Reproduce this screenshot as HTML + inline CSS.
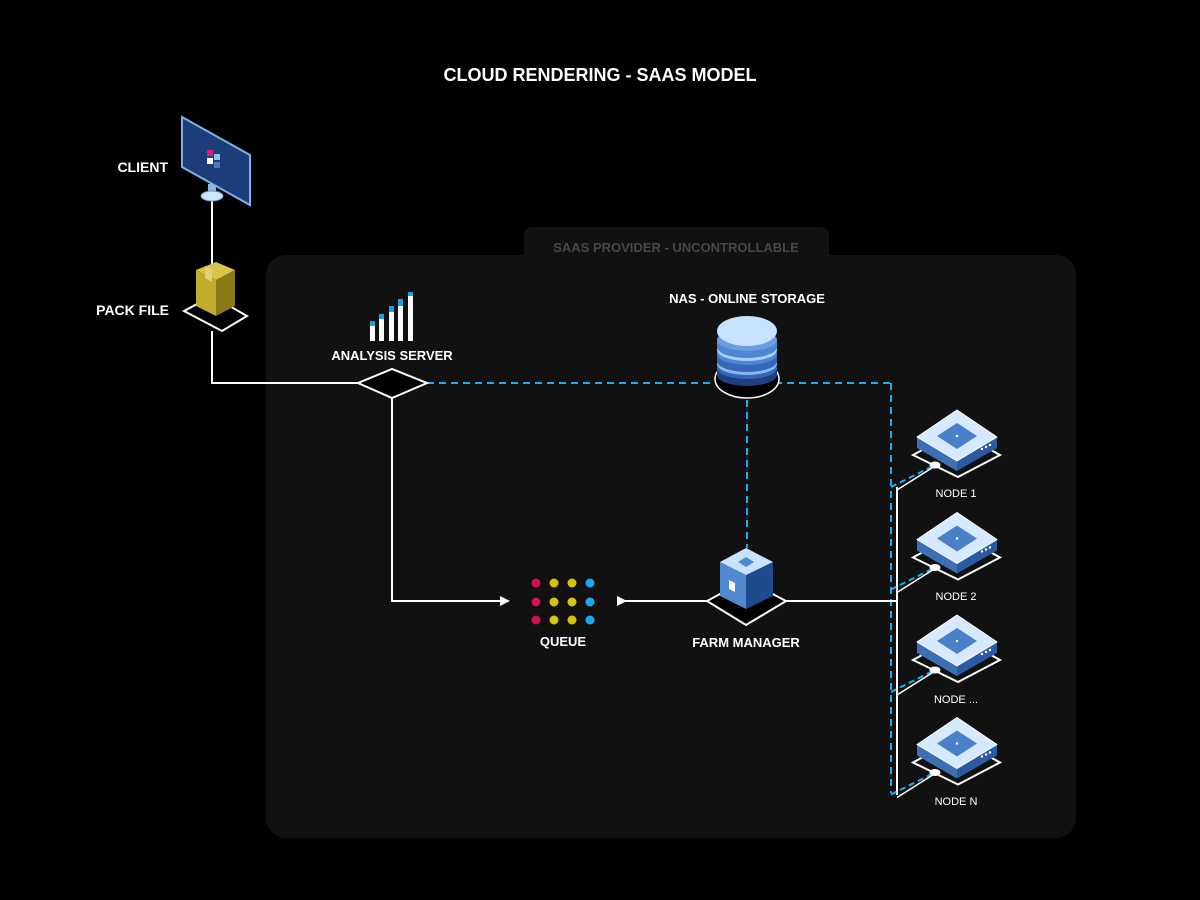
<!DOCTYPE html>
<html><head><meta charset="utf-8"><style>
html,body{margin:0;padding:0;background:#000;}
svg{display:block;}
text{font-family:"Liberation Sans",sans-serif;font-weight:bold;}
</style></head><body>
<svg width="1200" height="900" viewBox="0 0 1200 900" xmlns="http://www.w3.org/2000/svg">
<rect width="1200" height="900" fill="#000"/>
<text x="600" y="81" fill="#fff" font-size="18" text-anchor="middle">CLOUD RENDERING - SAAS MODEL</text>
<rect x="524" y="227" width="305" height="50" rx="8" fill="#111"/>
<rect x="266" y="255" width="810" height="583" rx="20" fill="#111"/>
<text x="676" y="252" fill="#474747" font-size="13" text-anchor="middle">SAAS PROVIDER - UNCONTROLLABLE</text>

<line x1="212" y1="200" x2="212" y2="266" stroke="#fff" stroke-width="2"/>
<rect x="208" y="184" width="8" height="12" fill="#8fb4dd"/>
<ellipse cx="212" cy="196" rx="11" ry="5" fill="#cfe6ff" stroke="#6b93c8"/>
<polygon points="182,117 250,155 250,205 182,167" fill="#1d3c7a" stroke="#7fb0e6" stroke-width="2"/>
<rect x="207" y="150" width="6" height="6" fill="#e0187a"/>
<rect x="214" y="154" width="6" height="6" fill="#8fc3ef"/>
<rect x="207" y="158" width="6" height="6" fill="#fff"/>
<rect x="214" y="162" width="6" height="6" fill="#4a78b8"/>
<text x="168" y="172" fill="#fff" font-size="14" text-anchor="end">CLIENT</text>

<polygon points="184,311 212,296 247,316 222,331" fill="#000" stroke="#fff" stroke-width="2"/>
<polygon points="196,270 216,280 216,316 196,306" fill="#c1ab2d"/>
<polygon points="216,280 235,270 235,306 216,316" fill="#8a7a16"/>
<polygon points="196,270 216,262 235,270 216,280" fill="#d8c44a"/>
<polygon points="205,266 212,270 212,282 205,278" fill="#e2d27a"/>
<text x="169" y="315" fill="#fff" font-size="14" text-anchor="end">PACK FILE</text>

<polyline points="212,331 212,383 358,383" fill="none" stroke="#fff" stroke-width="2"/>
<line x1="427" y1="383" x2="891" y2="383" stroke="#1ab0f0" stroke-width="2" stroke-dasharray="7,5"/>
<line x1="891" y1="383" x2="891" y2="793" stroke="#1ab0f0" stroke-width="2" stroke-dasharray="7,5"/>
<line x1="747" y1="400" x2="747" y2="548" stroke="#1ab0f0" stroke-width="2" stroke-dasharray="7,5"/>
<polyline points="392,398 392,601 500,601" fill="none" stroke="#fff" stroke-width="2"/>
<polygon points="500,596 510,601 500,606" fill="#fff"/>
<line x1="620" y1="601" x2="707" y2="601" stroke="#fff" stroke-width="2"/>
<polygon points="617,596 627,601 617,606" fill="#fff"/>
<line x1="786" y1="601" x2="897" y2="601" stroke="#fff" stroke-width="2"/>
<line x1="897" y1="487" x2="897" y2="795" stroke="#fff" stroke-width="2"/>

<polygon points="358,383 392,369 427,383 392,398" fill="#000" stroke="#fff" stroke-width="2"/>
<g fill="#fff"><rect x="370" y="323" width="5" height="18"/><rect x="379" y="316" width="5" height="25"/><rect x="389" y="308" width="5" height="33"/><rect x="398" y="300" width="5" height="41"/><rect x="408" y="292" width="5" height="49"/></g>
<g fill="#1aa0e0"><rect x="370" y="321" width="5" height="5"/><rect x="379" y="314" width="5" height="5"/><rect x="389" y="306" width="5" height="6"/><rect x="398" y="299" width="5" height="7"/><rect x="408" y="292" width="5" height="4"/></g>
<text x="392" y="360" fill="#fff" font-size="13" text-anchor="middle">ANALYSIS SERVER</text>

<text x="747" y="303" fill="#fff" font-size="13" text-anchor="middle">NAS - ONLINE STORAGE</text>
<ellipse cx="747" cy="379" rx="32" ry="19" fill="#000" stroke="#fff" stroke-width="1.5"/>
<g>
<rect x="717" y="369" width="60" height="6" fill="#1f3f82"/><ellipse cx="747" cy="375" rx="30" ry="11" fill="#1f3f82"/>
<ellipse cx="747" cy="368" rx="30" ry="11" fill="#3566b8"/>
<ellipse cx="747" cy="364" rx="30" ry="11" fill="#8ab8ee"/>
<rect x="717" y="355" width="60" height="6" fill="#3566b8"/><ellipse cx="747" cy="361" rx="30" ry="11" fill="#3566b8"/>
<ellipse cx="747" cy="354" rx="30" ry="11" fill="#4f86d4"/>
<ellipse cx="747" cy="350" rx="30" ry="11" fill="#a9d0fa"/>
<rect x="717" y="341" width="60" height="6" fill="#4f86d4"/><ellipse cx="747" cy="347" rx="30" ry="11" fill="#4f86d4"/>
<ellipse cx="747" cy="340" rx="30" ry="11" fill="#6a9ee0"/>
<ellipse cx="747" cy="331" rx="30" ry="15" fill="#c6e2ff"/>
</g>

<g>
<circle cx="536" cy="583" r="4.5" fill="#d0104f"/><circle cx="554" cy="583" r="4.5" fill="#d6c40a"/><circle cx="572" cy="583" r="4.5" fill="#d6c40a"/><circle cx="590" cy="583" r="4.5" fill="#18aaf0"/>
<circle cx="536" cy="602" r="4.5" fill="#d0104f"/><circle cx="554" cy="602" r="4.5" fill="#d6c40a"/><circle cx="572" cy="602" r="4.5" fill="#d6c40a"/><circle cx="590" cy="602" r="4.5" fill="#18aaf0"/>
<circle cx="536" cy="620" r="4.5" fill="#d0104f"/><circle cx="554" cy="620" r="4.5" fill="#d6c40a"/><circle cx="572" cy="620" r="4.5" fill="#d6c40a"/><circle cx="590" cy="620" r="4.5" fill="#18aaf0"/>
</g>
<text x="563" y="646" fill="#fff" font-size="13" text-anchor="middle">QUEUE</text>

<polygon points="707,601 746,580 786,601 746,625" fill="#000" stroke="#fff" stroke-width="2"/>
<polygon points="720,562 746,575 746,609 720,596" fill="#5089d0"/>
<polygon points="746,575 773,562 773,596 746,609" fill="#1e4a8e"/>
<polygon points="720,562 746,548 773,562 746,575" fill="#c8e2ff"/>
<polygon points="738,562 746,557 754,562 746,567" fill="#5089d0"/>
<polygon points="729,580 735,583 735,592 729,589" fill="#fff"/>
<text x="746" y="647" fill="#fff" font-size="13" text-anchor="middle">FARM MANAGER</text>

<defs>
<g id="node">
<line x1="891" y1="487" x2="935" y2="465" stroke="#1ab0f0" stroke-width="2" stroke-dasharray="6,4"/>
<line x1="897" y1="490" x2="935" y2="466" stroke="#fff" stroke-width="1.5"/>
<polygon points="913,455 957,431 1000,455 958,477" fill="none" stroke="#fff" stroke-width="2"/>
<polygon points="917,437 957,460 957,471 917,448" fill="#3d6fb5"/>
<polygon points="957,460 997,437 997,448 957,471" fill="#2b5aa0"/>
<polygon points="917,437 957,410 997,437 957,461" fill="#d6eaff" stroke="#fff" stroke-width="1" stroke-linejoin="round"/>
<polygon points="937,436 957,423 977,436 957,449" fill="#4a80c8"/>
<circle cx="957" cy="436" r="1.2" fill="#fff"/>
<circle cx="982" cy="449" r="1.2" fill="#fff"/><circle cx="986" cy="447" r="1.2" fill="#fff"/><circle cx="990" cy="445" r="1.2" fill="#fff"/>
<ellipse cx="935" cy="465" rx="5.5" ry="3.5" fill="#fff"/>
</g>
</defs>
<use href="#node"/>
<use href="#node" transform="translate(0,102.5)"/>
<use href="#node" transform="translate(0,205)"/>
<use href="#node" transform="translate(0,307.5)"/>
<g font-size="11" fill="#fff" text-anchor="middle">
<text x="956" y="497" style="font-weight:normal">NODE 1</text>
<text x="956" y="600" style="font-weight:normal">NODE 2</text>
<text x="956" y="703" style="font-weight:normal">NODE ...</text>
<text x="956" y="805" style="font-weight:normal">NODE N</text>
</g>
</svg>
</body></html>
